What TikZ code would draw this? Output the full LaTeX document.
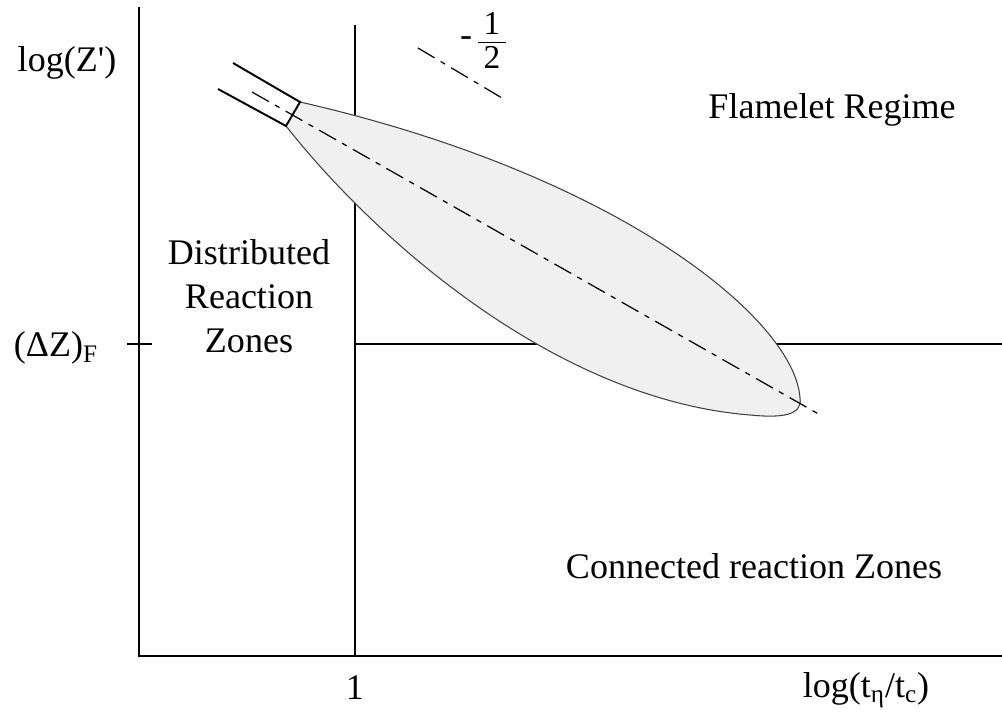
\documentclass[tikz,border=0pt]{standalone}
\usepackage{fontspec}
\setmainfont{Liberation Serif}
\tikzset{
	lbl/.style={inner sep=0pt,font=\fontsize{20.5}{25}\selectfont,align=center},
	axis/.style={line width=1.3pt},
	thinline/.style={line width=0.7pt},
	dashdot/.style={line width=0.7pt,dash pattern=on 11pt off 4pt on 3pt off 4pt},
}
\begin{document}
\begin{tikzpicture}[x=0.02cm,y=-0.02cm]
		\useasboundingbox (0,0) rectangle (1002,712);
		
		% axes
		\coordinate (top) at (139,7);
		\coordinate (org) at (139,656);
		\coordinate (right) at (1002,656);
		\draw[axis] (top) -- (org) -- (right);
		
		% regime borders
		\coordinate (vtop) at (355,25);
		\coordinate (vbot) at (355,656);
		\coordinate (hleft) at (355,344);
		\coordinate (hright) at (1002,344);
		\coordinate (tickl) at (127,344);
		\coordinate (tickr) at (152,344);
		\draw[thinline] (vtop) -- (vbot);
		\draw[thinline] (hleft) -- (hright);
		\draw[thinline] (tickl) -- (tickr);
		
		% balloon
		\filldraw[fill=black!6,draw=black!75,line width=0.6pt] (300,102) .. controls (620,175) and (795,320) .. (800,398)
			.. controls (803,416) and (780,418) .. (750,415)
			.. controls (560,400) and (380,245) .. (286,126);
		
		% tube
		\coordinate (tu1) at (233,63);
		\coordinate (tu2) at (300,102);
		\coordinate (tl1) at (218,89);
		\coordinate (tl2) at (286,126);
		\draw[line width=1.1pt] (tu1) -- (tu2) -- (tl2) -- (tl1);
		
		% center line
		\coordinate (c1) at (252,92);
		\coordinate (c2) at (822,416);
		\draw[dashdot] (c1) -- (c2);
		
		% slope
		\coordinate (s1) at (418,48);
		\coordinate (s2) at (507,101);
		\draw[dashdot] (s1) -- (s2);
		\node[lbl] (minus) at (466,42) {-};
		\node[inner sep=0pt] (half) at (492,44) {\fontsize{19}{21}\selectfont\begin{tabular}{@{\,}c@{\,}}1\\[-2pt]\hline\rule{0pt}{15pt}2\end{tabular}};
		
		% labels
		\node[lbl] (ylab) at (67,63) {log(Z\textquotesingle)};
		\node[lbl] (dz) at (56,348) {(ΔZ)\textsubscript{F}};
		\node[lbl] (one) at (355,688) {1};
		\node[lbl] (xlab) at (866,690) {log(t\textsubscript{η}/t\textsubscript{c})};
		\node[lbl] (dist) at (249,296) {Distributed\\Reaction\\Zones};
		\node[lbl] (flam) at (832,110) {Flamelet Regime};
		\node[lbl] (conn) at (754,566) {Connected reaction Zones};
	\end{tikzpicture}
\end{document}
